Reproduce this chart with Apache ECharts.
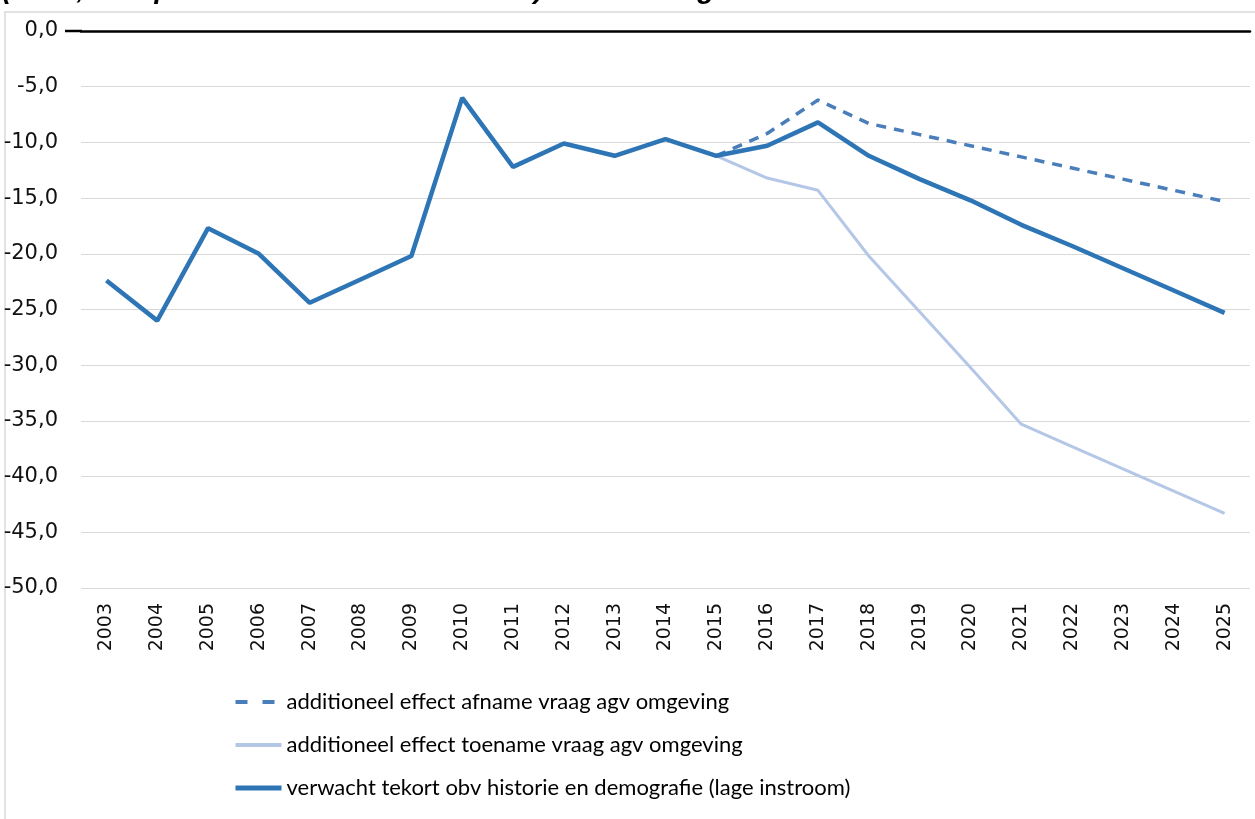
<!DOCTYPE html>
<html><head><meta charset="utf-8">
<script src="https://cdn.jsdelivr.net/npm/echarts@6/dist/echarts.min.js"></script>
<style>html,body{margin:0;padding:0;background:#fff}#c{width:1255px;height:819px}</style>
</head><body><div id="c"></div>
<script>
const years = ['2003','2004','2005','2006','2007','2008','2009','2010','2011','2012','2013','2014','2015','2016','2017','2018','2019','2020','2021','2022','2023','2024','2025'];
const yTicks = [0,-5,-10,-15,-20,-25,-30,-35,-40,-45,-50];
const seriesNames = ['additioneel effect afname vraag agv omgeving','additioneel effect toename vraag agv omgeving','verwacht tekort obv historie en demografie (lage instroom)'];
const afname = [null,null,null,null,null,null,null,null,null,null,null,null,-11.2,-9.2,-6.2,-8.3,-9.3,-10.3,-11.3,-12.3,-13.3,-14.3,-15.3];
const toename = [null,null,null,null,null,null,null,null,null,null,null,null,-11.2,-13.2,-14.3,-20.2,-25.2,-30.2,-35.3,-37.3,-39.3,-41.3,-43.3];
const verwacht = [-22.4,-26.0,-17.7,-20.0,-24.4,-22.3,-20.2,-6.0,-12.2,-10.1,-11.2,-9.7,-11.2,-10.3,-8.2,-11.2,-13.3,-15.2,-17.4,-19.3,-21.3,-23.3,-25.3];
const titleText = '(MBO, Complexe VVT/RV* en Rotterdam) – variant lage instroom';

const chart = echarts.init(document.getElementById('c'));
chart.setOption({
  animation:false,
  title:{text:titleText,left:-3,top:-29,textStyle:{fontFamily:'Liberation Sans',fontSize:28,lineHeight:28,fontWeight:'bold',fontStyle:'italic',color:'#000'}},
  graphic:[
    {type:'rect',shape:{x:5,y:12,width:1260,height:820},style:{fill:'none',stroke:'#d9d9d9',lineWidth:1.5},silent:true},
    {type:'line',shape:{x1:65,y1:31,x2:82,y2:31},style:{stroke:'#000',lineWidth:2.5},silent:true}
  ],
  grid:{left:81,right:5,top:31,bottom:231,containLabel:false},
  legend:{orient:'vertical',left:228,top:686,itemGap:21,itemWidth:46,itemHeight:14,
    itemStyle:{opacity:0},
    textStyle:{fontFamily:'Lato',fontSize:22,lineHeight:22,color:'#000'},
    data:[
      {name:seriesNames[0],lineStyle:{width:4,type:[12,15]}},
      {name:seriesNames[1],lineStyle:{width:4}},
      {name:seriesNames[2],lineStyle:{width:5}}
    ]},
  xAxis:[{type:'category',data:years,position:'bottom',boundaryGap:true,
    axisLine:{show:false},axisTick:{show:false},
    axisLabel:{rotate:90,margin:15,fontFamily:'DejaVu Sans',fontSize:19,color:'#111'}},
    {type:'category',data:years,position:'top',axisLine:{show:true,lineStyle:{color:'#000',width:2.5}},axisTick:{show:false},axisLabel:{show:false}}],
  yAxis:{type:'value',min:-50,max:0,interval:5,
    axisLine:{show:false},axisTick:{show:false},
    splitLine:{lineStyle:{color:'#d9d9d9',width:1}},
    axisLabel:{margin:23,fontFamily:'DejaVu Sans',fontSize:21,color:'#111',
      formatter:v=>{const t=yTicks.find(x=>Math.abs(x-v)<1e-9);return (t===undefined?v:t).toFixed(1).replace('.',',');}}},
  series:[
    {name:seriesNames[0],type:'line',data:afname,symbol:'none',color:'#4A7EBB',lineStyle:{width:3.5,type:[10,8],color:'#4A7EBB'},z:2},
    {name:seriesNames[1],type:'line',data:toename,symbol:'none',color:'#B4C7E7',lineStyle:{width:3,color:'#B4C7E7'},z:2},
    {name:seriesNames[2],type:'line',data:verwacht,symbol:'none',color:'#2E75B6',lineStyle:{width:4.5,color:'#2E75B6'},z:3}
  ]
});
</script></body></html>
